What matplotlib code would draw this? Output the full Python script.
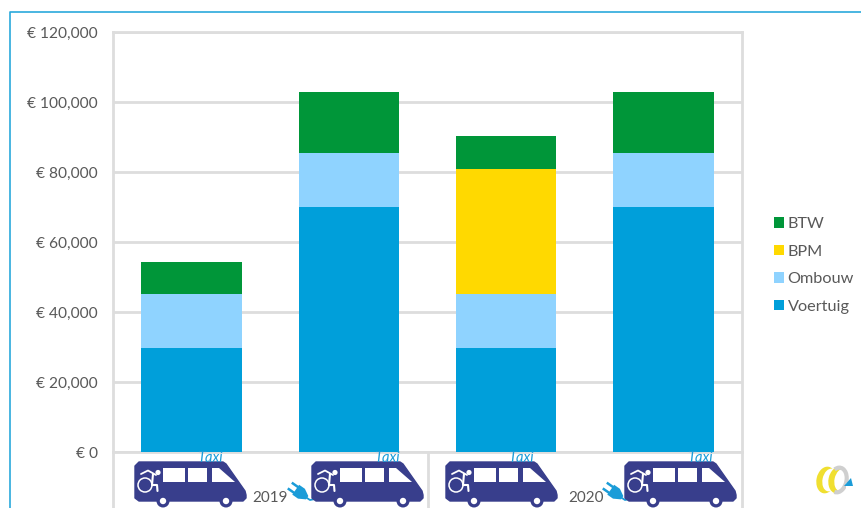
#!/usr/bin/env python3
# -*- coding: utf-8 -*-
import matplotlib
matplotlib.use('Agg')
import matplotlib.pyplot as plt
import numpy as np
from matplotlib.patches import Rectangle, Circle, Polygon, Ellipse, Arc
from matplotlib.ticker import FuncFormatter

plt.rcParams['font.family'] = ['Lato', 'DejaVu Sans']

W, H = 862, 508

categories = ['a', 'b', 'c', 'd']
voertuig = [29800, 70000, 29800, 70000]
ombouw = [15300, 15300, 15300, 15300]
bpm = [0, 0, 35750, 0]
btw = [9200, 17550, 9400, 17550]
year_labels = ['2019', '2020']
yticks = [0, 20000, 40000, 60000, 80000, 100000, 120000]

colors = {'Voertuig': '#009FDA', 'Ombouw': '#8FD3FF', 'BPM': '#FFD900', 'BTW': '#009639'}
grid = '#DDDDDD'
text_col = '#595959'
navy = '#383E8C'
blue = '#1B9CD8'

fig = plt.figure(figsize=(W / 100, H / 100), dpi=100)
ax = fig.add_axes([113 / W, 1 - 452 / H, 629 / W, 420 / H])

x = np.arange(len(categories))
bottom = np.zeros(len(categories))
for name, vals in [('Voertuig', voertuig), ('Ombouw', ombouw), ('BPM', bpm), ('BTW', btw)]:
    ax.bar(x, vals, width=0.64, bottom=bottom, color=colors[name], label=name, zorder=3)
    bottom = bottom + np.array(vals)

ax.set_xlim(-0.5, 3.5)
ax.set_ylim(0, 120000)
ax.set_yticks(yticks)
ax.yaxis.set_major_formatter(FuncFormatter(lambda v, p: '€ {:,.0f}'.format(v)))
ax.set_xticks([])
ax.tick_params(axis='y', length=0, pad=11, labelsize=11.2, labelcolor=text_col)
ax.grid(axis='y', color=grid, lw=2, zorder=0)
ax.set_axisbelow(True)
for s in ax.spines.values():
    s.set_color(grid)
    s.set_linewidth(2)

handles, labels = ax.get_legend_handles_labels()
ax.legend(handles[::-1], labels[::-1], loc='center left', bbox_to_anchor=(1.0506, 0.444), frameon=False,
          fontsize=11.7, labelcolor=text_col, handlelength=0.62, handleheight=0.62,
          handletextpad=0.22, labelspacing=0.83, borderpad=0, borderaxespad=0)

# pixel overlay for the frame, icons and the labels under the axis
ov = fig.add_axes([0, 0, 1, 1], zorder=5)
ov.set_xlim(0, W)
ov.set_ylim(H, 0)
ov.axis('off')
ov.patch.set_alpha(0)

ov.plot([10.5, 10.5, W], [H, 11.5, 11.5], color='#2AA9DC', lw=1.2)
for px in [113, 428, 742]:
    ov.plot([px, px], [452, H], color=grid, lw=2, zorder=1)


def van(x0):
    # body outline, origin at left edge of the van
    y0 = 462
    verts = [(4, 0), (88, 0), (91, 2), (110, 29), (111, 33), (111, 36), (108, 39), (4, 39),
             (0, 36), (0, 4)]
    ov.add_patch(Polygon([(x0 + a, y0 + b) for a, b in verts], closed=True, fc=navy, ec=navy,
                         lw=1, joinstyle='round', zorder=3))
    for cx in [28, 91]:
        ov.add_patch(Circle((x0 + cx, y0 + 39), 6.5, fc=navy, ec='none', zorder=3))
        ov.add_patch(Circle((x0 + cx, y0 + 39), 3.2, fc='white', ec='none', zorder=4))
    ov.add_patch(Rectangle((x0 + 28, y0 + 6), 22, 14, fc='white', ec='none', zorder=4))
    ov.add_patch(Rectangle((x0 + 53, y0 + 6), 19, 14, fc='white', ec='none', zorder=4))
    ov.add_patch(Polygon([(x0 + 77, y0 + 6), (x0 + 84, y0 + 6), (x0 + 100, y0 + 20), (x0 + 77, y0 + 20)],
                         fc='white', ec='none', zorder=4))
    # wheelchair symbol
    ov.add_patch(Circle((x0 + 10, y0 + 23), 7, fc='none', ec='white', lw=1.1, zorder=4))
    ov.add_patch(Circle((x0 + 23, y0 + 10.5), 2.6, fc='white', ec='none', zorder=4))
    ov.plot([x0 + 6, x0 + 13, x0 + 21], [y0 + 12, y0 + 8.5, y0 + 13],
            color='white', lw=1.3, zorder=4, solid_capstyle='round')
    ov.plot([x0 + 18, x0 + 17, x0 + 22, x0 + 22.5], [y0 + 12, y0 + 23, y0 + 23, y0 + 29],
            color='white', lw=1.5, zorder=4, solid_capstyle='round')
    ov.text(x0 + 75, y0 - 4.5, 'Taxi', color=blue, fontsize=10.5, style='italic',
            ha='center', va='center', zorder=4)


for vx in [135, 312, 446, 625]:
    van(vx)


def plug(cx, cy):
    # plug head, prongs and a short cable running into the next van
    a = np.radians(35)
    rot = np.array([[np.cos(a), -np.sin(a)], [np.sin(a), np.cos(a)]])
    head = np.array([(-4, -6), (3, -6), (10, -2), (10, 2), (3, 6), (-4, 6)]) @ rot.T + (cx, cy)
    ov.add_patch(Polygon(head, fc=blue, ec='none', zorder=3))
    for off in [-3.5, 3.5]:
        pr = np.array([(-10, off), (-4, off)]) @ rot.T + (cx, cy)
        ov.plot(pr[:, 0], pr[:, 1], color=blue, lw=1.8, zorder=3)
    ov.plot([cx + 8, cx + 11, cx + 16], [cy + 6, cy + 8, cy + 7], color=blue, lw=1.3, zorder=2)


plug(299, 492)
plug(614, 492)

ov.text(270, 498.5, year_labels[0], color=text_col, fontsize=11, ha='center', va='center')
ov.text(586, 498.5, year_labels[1], color=text_col, fontsize=11, ha='center', va='center')

# small logo bottom right
ov.add_patch(Ellipse((826, 480), 19, 27, angle=12, fc='#F0DF30', ec='none', zorder=3))
ov.add_patch(Ellipse((830, 480), 15, 23, angle=12, fc='white', ec='none', zorder=3))
ov.add_patch(Ellipse((838, 480), 19, 27, angle=12, fc='#F0DF30', ec='none', zorder=3))
ov.add_patch(Ellipse((842, 480), 15, 23, angle=12, fc='white', ec='none', zorder=3))
ov.add_patch(Arc((838, 480), 17, 25, angle=12, theta1=-120, theta2=95, color='#CFCFCF', lw=3, zorder=3))
ov.add_patch(Rectangle((846, 483), 8, 8, fc='white', ec='none', zorder=4))
ov.add_patch(Polygon([(844, 486), (853, 486), (851, 478)], fc=blue, ec='none', zorder=5))

fig.savefig('out.png', dpi=100)
